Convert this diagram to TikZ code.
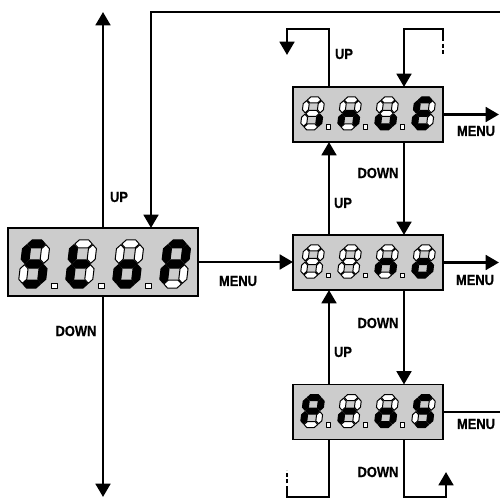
\documentclass[tikz,border=0pt]{standalone}
\usepackage{fontspec}
\setmainfont{Liberation Sans}
\newfontfamily\lblfont[FakeStretch=0.88,FakeBold=0.6]{Liberation Sans Bold}
\usetikzlibrary{arrows.meta}
\makeatletter
\newcommand\segfillfor[2]{\in@{#1}{#2}\ifin@\def\sfc{black}\else\def\sfc{white}\fi}
\makeatother
\def\dgG{0.7}
\newcommand\hseg[5]{%
 \segfillfor{#1}{#5}%
 \filldraw[segsty, fill=\sfc] ({#2+\dgG},{#4}) -- ({#2+\dgG+\dgH},{#4-\dgH}) -- ({#3-\dgG-\dgH},{#4-\dgH}) -- ({#3-\dgG},{#4}) -- ({#3-\dgG-\dgH},{#4+\dgH}) -- ({#2+\dgG+\dgH},{#4+\dgH}) -- cycle;}
\newcommand\vseg[5]{%
 \segfillfor{#1}{#5}%
 \filldraw[segsty, fill=\sfc] ({#2},{#3+\dgG}) -- ({#2+\dgH},{#3+\dgG+\dgH}) -- ({#2+\dgH},{#4-\dgG-\dgH}) -- ({#2},{#4-\dgG}) -- ({#2-\dgH},{#4-\dgG-\dgH}) -- ({#2-\dgH},{#3+\dgG+\dgH}) -- cycle;}
\newcommand\sdigit[6]{%
 \begin{scope}[shift={(#1,#2)},xslant=0.12]
 \pgfmathsetmacro\dgH{#5/2}
 \pgfmathsetmacro\dgXl{\dgH}\pgfmathsetmacro\dgXr{#3-\dgH}
 \pgfmathsetmacro\dgYt{\dgH}\pgfmathsetmacro\dgYm{#4/2}\pgfmathsetmacro\dgYb{#4-\dgH}
 \hseg{a}{\dgXl}{\dgXr}{\dgYt}{#6}
 \vseg{b}{\dgXr}{\dgYt}{\dgYm}{#6}
 \vseg{c}{\dgXr}{\dgYm}{\dgYb}{#6}
 \hseg{d}{\dgXl}{\dgXr}{\dgYb}{#6}
 \vseg{e}{\dgXl}{\dgYm}{\dgYb}{#6}
 \vseg{f}{\dgXl}{\dgYt}{\dgYm}{#6}
 \hseg{g}{\dgXl}{\dgXr}{\dgYm}{#6}
 \end{scope}}
\newcommand\dpt[3]{\filldraw[segsty,fill=white] (#1,#2) rectangle ++(#3,#3);}
\begin{document}
\begin{tikzpicture}[x=0.75pt,y=-0.75pt,
  line width=2.1pt,
  arr/.style={-{Triangle[width=11pt,length=10pt]}},
  dashln/.style={dash pattern=on 3pt off 2pt},
  lbl/.style={font=\lblfont\fontsize{11}{13}\selectfont, inner sep=0pt},
  dispbox/.style={draw, line width=1.4pt, fill=black!20, inner sep=0pt, outer sep=0pt},
  bigbox/.style={dispbox, minimum width=142.5pt, minimum height=51pt},
  smallbox/.style={dispbox, minimum width=112.5pt, minimum height=41.25pt},
  segsty/.style={draw=black, line width=0.75pt, line join=round}]
\fill[white] (0,0) rectangle (500,499);
\useasboundingbox (0,0) rectangle (500,499);

% boxes
\node[bigbox] (stop) at (103,262) {};
\node[smallbox] (inve) at (368,114.5) {};
\node[smallbox] (prog) at (368,262.5) {};
\node[smallbox] (pros) at (368,412) {};

% digits: StoP
\sdigit{23.5}{240}{27}{48}{8}{afgcd}
\sdigit{70.5}{240}{27}{48}{8}{fged}
\sdigit{117.5}{240}{27}{48}{8}{gcde}
\sdigit{164.5}{240}{27}{48}{8}{abfge}
\dpt{51.5}{283}{5.5}\dpt{98.5}{283}{5.5}\dpt{145.5}{283}{5.5}
% inuE
\sdigit{304}{97}{21}{33}{6}{c}
\sdigit{341}{97}{21}{33}{6}{egc}
\sdigit{378}{97}{21}{33}{6}{edc}
\sdigit{415}{97}{21}{33}{6}{afged}
\dpt{326}{125}{4.5}\dpt{363}{125}{4.5}\dpt{400}{125}{4.5}
% no
\sdigit{304}{245}{21}{33}{6}{}
\sdigit{341}{245}{21}{33}{6}{}
\sdigit{378}{245}{21}{33}{6}{egc}
\sdigit{415}{245}{21}{33}{6}{gcde}
\dpt{326}{273}{4.5}\dpt{363}{273}{4.5}\dpt{400}{273}{4.5}
% ProS
\sdigit{304}{394.5}{21}{33}{6}{abfge}
\sdigit{341}{394.5}{21}{33}{6}{eg}
\sdigit{378}{394.5}{21}{33}{6}{gcde}
\sdigit{415}{394.5}{21}{33}{6}{afgcd}
\dpt{326}{422.5}{4.5}\dpt{363}{422.5}{4.5}\dpt{400}{422.5}{4.5}

% named coordinates
\coordinate (cu) at (329,0);
\coordinate (cd) at (404,0);
\coordinate (xin) at (151,0);
\coordinate (upend) at (103,12);
\coordinate (downend) at (103,497);
\coordinate (topR) at (500,12);
\coordinate (rim) at (499,0);
\coordinate (rimline) at (500,0);
\coordinate (tlc) at (287,29);
\coordinate (tl) at (287,55);
\coordinate (trs) at (443,37);
\coordinate (trc) at (404,29);
\coordinate (trd) at (443,55);
\coordinate (blc) at (287,497);
\coordinate (bls) at (287,490);
\coordinate (bld) at (287,470);
\coordinate (brc) at (446,497);
\coordinate (brt) at (446,472);

% connectors
\draw[arr] (stop.north) -- (upend);
\draw[arr] (stop.south) -- (downend);
\draw[arr] (topR) -| (stop.north -| xin);
\draw[arr] (stop.east) -- (stop.east -| prog.west);
\draw[arr] (prog.north -| cu) -- (inve.south -| cu);
\draw[arr] (inve.south -| cd) -- (prog.north -| cd);
\draw[arr] (pros.north -| cu) -- (prog.south -| cu);
\draw[arr] (prog.south -| cd) -- (pros.north -| cd);
\draw[arr] (inve.east) -- (inve.east -| rim);
\draw[arr] (prog.east) -- (prog.east -| rim);
\draw (pros.east) -- (pros.east -| rimline);
\draw[arr] (inve.north -| cu) |- (tlc) -- (tl);
\draw[arr] (trs) |- (trc) -- (inve.north -| cd);
\draw[dashln] (trs) -- (trd);
\draw (pros.south -| cu) |- (blc) -- (bls);
\draw[dashln] (bls) -- (bld);
\draw[arr] (pros.south -| cd) |- (brc) -- (brt);

% labels
\node[lbl] (l1) at (119,197) {UP};
\node[lbl] (l2) at (76,331) {DOWN};
\node[lbl] (l3) at (238,281) {MENU};
\node[lbl] (l4) at (344,54) {UP};
\node[lbl] (l5) at (476,131) {MENU};
\node[lbl] (l6) at (378,173) {DOWN};
\node[lbl] (l7) at (343,203) {UP};
\node[lbl] (l8) at (475,280) {MENU};
\node[lbl] (l9) at (378,323) {DOWN};
\node[lbl] (l10) at (343,352) {UP};
\node[lbl] (l11) at (476,424) {MENU};
\node[lbl] (l12) at (378,472) {DOWN};
\end{tikzpicture}
\end{document}
